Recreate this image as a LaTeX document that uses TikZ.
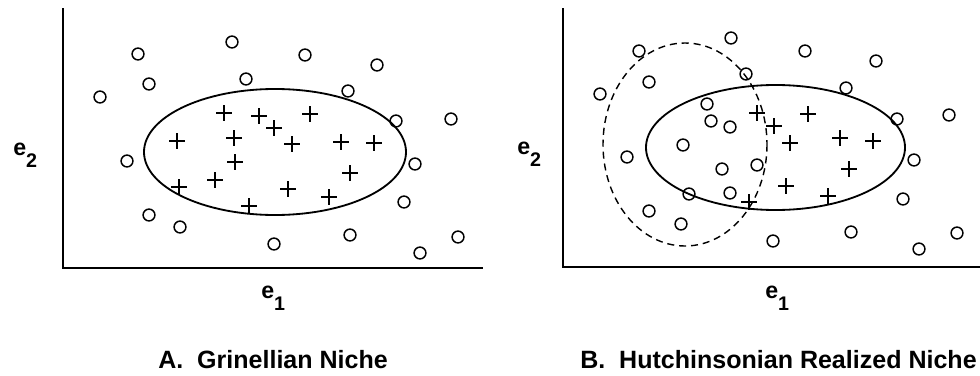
\documentclass[tikz,border=0pt]{standalone}
\usepackage{fontspec}
\setmainfont{Liberation Sans}
\usetikzlibrary{shapes.misc}

% axis label e with a subscript
\newcommand{\evar}[1]{{\fontsize{16.5}{18}\selectfont\bfseries e\raisebox{-0.55em}{\fontsize{14}{16}\selectfont #1}}}

\begin{document}
\begin{tikzpicture}[x=0.025cm, y=-0.025cm,
  axis/.style={line width=1.7pt},
  niche/.style={line width=1.3pt},
  absent/.style={circle, draw, line width=1.05pt, minimum size=8.4pt, inner sep=0pt},
  present/.style={cross out, draw, rotate=45, line width=1.05pt, minimum size=6.6pt, inner sep=0pt},
  lab/.style={anchor=base west, inner sep=0pt},
  caption/.style={anchor=base west, inner sep=0pt, font=\fontsize{17.8}{20}\selectfont\bfseries},
  ]
  \useasboundingbox (0,0) rectangle (980,375);

  % Panel A: axes
  \draw[axis] (63,8) -- (63,268) -- (483,268);
  \node[lab] (e2a) at (13,155) {\evar{2}};
  \node[lab] (e1a) at (261,298) {\evar{1}};
  \draw[niche] (275,152) ellipse [x radius=131, y radius=63];
  % absent points
  \foreach \x/\y [count=\i] in {232/42, 138/54, 305/55, 377/65, 149/84, 246/79, 100/97,
      348/91, 396/121, 451/119, 127/161, 415/164, 404/202, 149/215, 180/227,
      274/244, 350/235, 420/253, 458/237}
    \node[absent] (oa\i) at (\x,\y) {};
  % present points
  \foreach \x/\y [count=\i] in {224/113, 259/116, 310/114, 274/128, 177/141, 234/138,
      292/144, 341/142, 374/143, 235/162, 350/173, 215/180, 179/187, 288/189,
      329/197, 249/206}
    \node[present] (pa\i) at (\x,\y) {};
  \node[caption] (capa) at (158,368) {A.\ \ Grinellian Niche};

  % Panel B: axes
  \draw[axis] (563,8) -- (563,267) -- (980,267);
  \node[lab] (e2b) at (517,154) {\evar{2}};
  \node[lab] (e1b) at (765,298) {\evar{1}};
  \draw[niche] (775.5,147.5) ellipse [x radius=129.5, y radius=62.5];
  \draw[line width=1pt, dash pattern=on 5pt off 3.5pt] (685,144.5) ellipse [x radius=82, y radius=101.5];
  % absent points
  \foreach \x/\y [count=\i] in {731/38, 639/51, 805/51, 876/61, 649/82, 746/74, 600/94,
      846/88, 707/104, 711/121, 730/127, 897/119, 949/115, 683/145, 627/157,
      914/160, 722/169, 757/165, 689/194, 730/193, 903/199, 649/211, 681/224,
      773/241, 851/232, 919/249, 957/233}
    \node[absent] (ob\i) at (\x,\y) {};
  % present points
  \foreach \x/\y [count=\i] in {757/113, 808/114, 774/126, 790/143, 840/138, 873/141,
      849/169, 786/186, 828/196, 749/202}
    \node[present] (pb\i) at (\x,\y) {};
  \node[caption] (capb) at (580,368) {B.\ \ Hutchinsonian Realized Niche};
\end{tikzpicture}
\end{document}
